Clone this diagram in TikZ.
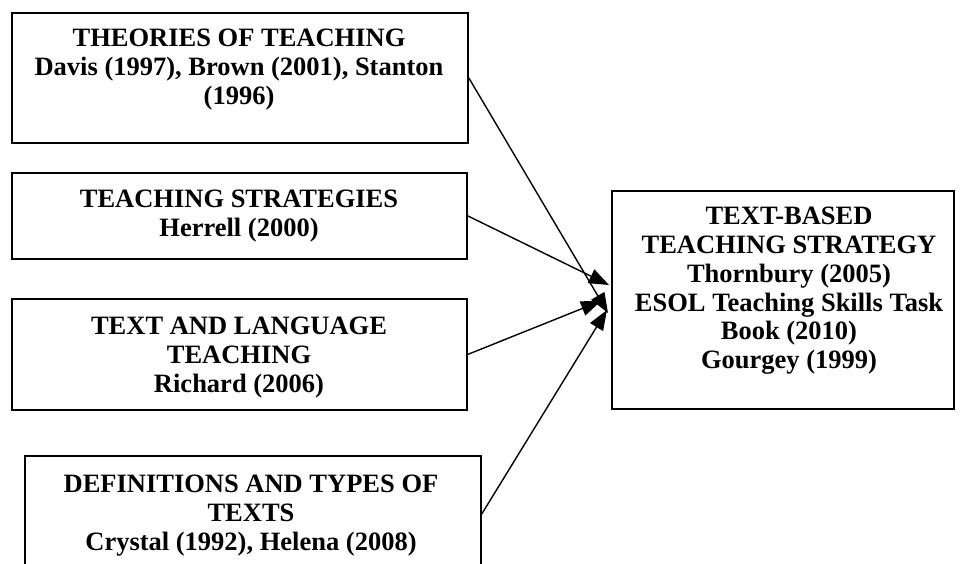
\documentclass[tikz,border=0pt]{standalone}
\usepackage{fontspec}
\setmainfont{Liberation Serif}
\usetikzlibrary{arrows.meta}
\begin{document}
\begin{tikzpicture}[x=1pt,y=-1pt,
  box/.style={draw=black,line width=1.8pt,rectangle,inner sep=0pt,anchor=north west},
  txt/.style={align=center,inner sep=0pt,anchor=north,font=\fontsize{26.5}{28.8}\selectfont\bfseries},
  conn/.style={line width=1.4pt,-{Triangle[length=20pt,width=15pt]}}]
\clip (0,0) rectangle (960,563);
\fill[white] (0,0) rectangle (960,563);
% boxes
\node[box,minimum width=456pt,minimum height=130pt] (b1) at (11,12) {};
\node[box,minimum width=455pt,minimum height=86pt] (b2) at (11,172) {};
\node[box,minimum width=455pt,minimum height=111pt] (b3) at (11,298) {};
\node[box,minimum width=456pt,minimum height=116pt] (b4) at (24,455) {};
\node[box,minimum width=342pt,minimum height=218pt] (r) at (611,190) {};
% texts
\node[txt] (t1) at (239,29) {THEORIES OF TEACHING\\Davis (1997), Brown (2001), Stanton\\(1996)};
\node[txt] (t2) at (239,190) {TEACHING STRATEGIES\\Herrell (2000)};
\node[txt] (t3) at (239,317) {TEXT AND LANGUAGE\\TEACHING\\Richard (2006)};
\node[txt] (t4) at (251,475) {DEFINITIONS AND TYPES OF\\TEXTS\\Crystal (1992), Helena (2008)};
\node[txt] (tr) at (789,207) {TEXT-BASED\\TEACHING STRATEGY\\Thornbury (2005)\\ESOL Teaching Skills Task\\Book (2010)\\Gourgey (1999)};
% arrow ends
\coordinate (e1) at (608,313);
\coordinate (e2) at (609,285);
\coordinate (e3) at (601,301);
\coordinate (e4) at (607,310);
\draw[conn] (b1.east) -- (e1);
\draw[conn] (b2.east) -- (e2);
\draw[conn] (b3.east) -- (e3);
\draw[conn] (b4.east) -- (e4);
\end{tikzpicture}
\end{document}
